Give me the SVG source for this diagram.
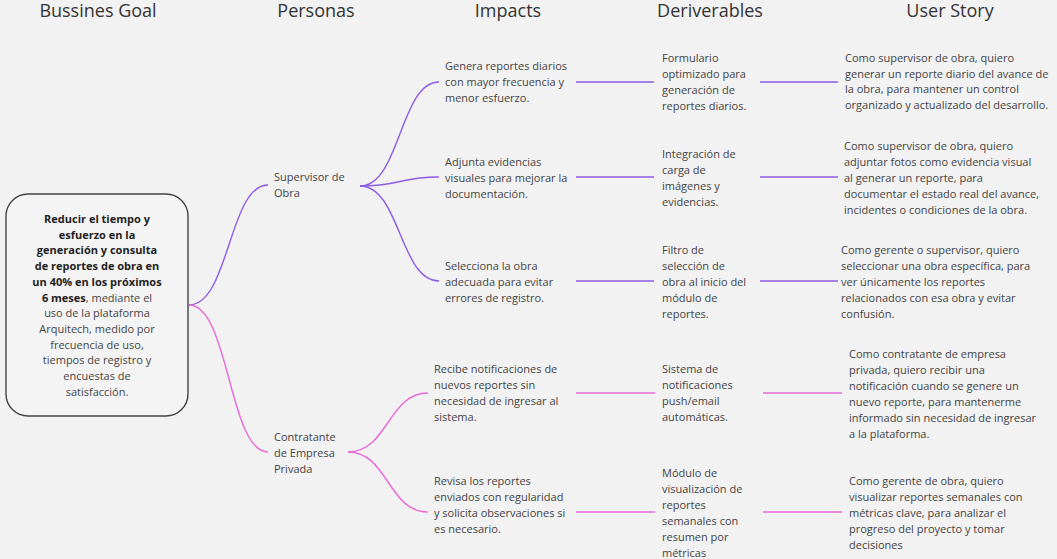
<svg xmlns="http://www.w3.org/2000/svg" width="1057" height="559" viewBox="0 0 1057 559">
<style>
text{font-family:"Open Sans","Noto Sans","Liberation Sans",sans-serif;fill:#444;font-size:11px}
.h{font-size:18px;fill:#333;text-anchor:middle}
.b{font-weight:bold;fill:#222}
.c{text-anchor:middle}
.p{fill:none;stroke:#8e5ce6;stroke-width:1.4}
.k{fill:none;stroke:#e86ad6;stroke-width:1.4}
</style>
<rect width="1057" height="559" fill="#f2f2f2"/>
<g id="headers">
<text class="h" x="98" y="17">Bussines Goal</text>
<text class="h" x="316" y="17">Personas</text>
<text class="h" x="508" y="17">Impacts</text>
<text class="h" x="710" y="17">Deriverables</text>
<text class="h" x="950" y="17">User Story</text>
</g>
<g id="connectors">
<path class="p" d="M189,305 C229,305 229,185 268,185"/>
<path class="k" d="M189,305 C229,305 229,452 268,452"/>
<path class="p" d="M360,186 C400,186 400,82 439,82"/>
<path class="p" d="M360,186 C400,186 400,177 439,177"/>
<path class="p" d="M360,186 C400,186 400,281 439,281"/>
<path class="k" d="M348,452 C388,452 388,393 428,393"/>
<path class="k" d="M348,452 C388,452 388,512 428,512"/>
<path class="p" d="M576,82H654M760,82H838"/>
<path class="p" d="M576,177H654M760,177H838"/>
<path class="p" d="M576,281H654M760,281H838"/>
<path class="k" d="M576,393H655M763,393H842"/>
<path class="k" d="M576,512H655M763,512H842"/>
</g>
<g id="goal">
<rect x="6" y="194" width="182" height="222" rx="22" fill="#f4f4f4" stroke="#444" stroke-width="1.4"/>
<text class="c" x="97" y="223"><tspan class="b">Reducir el tiempo y</tspan><tspan class="b" x="97" dy="15.7">esfuerzo en la</tspan><tspan class="b" x="97" dy="15.7">generación y consulta</tspan><tspan class="b" x="97" dy="15.7">de reportes de obra en</tspan><tspan class="b" x="97" dy="15.7">un 40% en los próximos</tspan><tspan x="97" dy="15.7"><tspan class="b">6 meses</tspan>, mediante el</tspan><tspan x="97" dy="15.7">uso de la plataforma</tspan><tspan x="97" dy="15.7">Arquitech, medido por</tspan><tspan x="97" dy="15.7">frecuencia de uso,</tspan><tspan x="97" dy="15.7">tiempos de registro y</tspan><tspan x="97" dy="15.7">encuestas de</tspan><tspan x="97" dy="15.7">satisfacción.</tspan></text>
</g>
<g id="persona-supervisor">
<text x="274" y="181">Supervisor de<tspan x="274" dy="16">Obra</tspan></text>
</g>
<g id="persona-contratante">
<text x="274" y="441">Contratante<tspan x="274" dy="16">de Empresa</tspan><tspan x="274" dy="16">Privada</tspan></text>
</g>
<g id="impact-1">
<text x="445" y="70">Genera reportes diarios<tspan x="445" dy="16">con mayor frecuencia y</tspan><tspan x="445" dy="16">menor esfuerzo.</tspan></text>
</g>
<g id="impact-2">
<text x="445" y="166">Adjunta evidencias<tspan x="445" dy="16">visuales para mejorar la</tspan><tspan x="445" dy="16">documentación.</tspan></text>
</g>
<g id="impact-3">
<text x="445" y="270">Selecciona la obra<tspan x="445" dy="16">adecuada para evitar</tspan><tspan x="445" dy="16">errores de registro.</tspan></text>
</g>
<g id="impact-4">
<text x="434" y="373">Recibe notificaciones de<tspan x="434" dy="16">nuevos reportes sin</tspan><tspan x="434" dy="16">necesidad de ingresar al</tspan><tspan x="434" dy="16">sistema.</tspan></text>
</g>
<g id="impact-5">
<text x="434" y="485">Revisa los reportes<tspan x="434" dy="16">enviados con regularidad</tspan><tspan x="434" dy="16">y solicita observaciones si</tspan><tspan x="434" dy="16">es necesario.</tspan></text>
</g>
<g id="deliverable-1">
<text x="662" y="62">Formulario<tspan x="662" dy="16">optimizado para</tspan><tspan x="662" dy="16">generación de</tspan><tspan x="662" dy="16">reportes diarios.</tspan></text>
</g>
<g id="deliverable-2">
<text x="662" y="158">Integración de<tspan x="662" dy="16">carga de</tspan><tspan x="662" dy="16">imágenes y</tspan><tspan x="662" dy="16">evidencias.</tspan></text>
</g>
<g id="deliverable-3">
<text x="662" y="254">Filtro de<tspan x="662" dy="16">selección de</tspan><tspan x="662" dy="16">obra al inicio del</tspan><tspan x="662" dy="16">módulo de</tspan><tspan x="662" dy="16">reportes.</tspan></text>
</g>
<g id="deliverable-4">
<text x="662" y="373">Sistema de<tspan x="662" dy="16">notificaciones</tspan><tspan x="662" dy="16">push/email</tspan><tspan x="662" dy="16">automáticas.</tspan></text>
</g>
<g id="deliverable-5">
<text x="662" y="477">Módulo de<tspan x="662" dy="16">visualización de</tspan><tspan x="662" dy="16">reportes</tspan><tspan x="662" dy="16">semanales con</tspan><tspan x="662" dy="16">resumen por</tspan><tspan x="662" dy="16">métricas</tspan></text>
</g>
<g id="story-1">
<text x="845" y="62">Como supervisor de obra, quiero<tspan x="845" dy="15.7">generar un reporte diario del avance de</tspan><tspan x="845" dy="15.7">la obra, para mantener un control</tspan><tspan x="845" dy="15.7">organizado y actualizado del desarrollo.</tspan></text>
</g>
<g id="story-2">
<text x="844" y="150">Como supervisor de obra, quiero<tspan x="844" dy="16">adjuntar fotos como evidencia visual</tspan><tspan x="844" dy="16">al generar un reporte, para</tspan><tspan x="844" dy="16">documentar el estado real del avance,</tspan><tspan x="844" dy="16">incidentes o condiciones de la obra.</tspan></text>
</g>
<g id="story-3">
<text x="841" y="254">Como gerente o supervisor, quiero<tspan x="841" dy="16">seleccionar una obra específica, para</tspan><tspan x="841" dy="16">ver únicamente los reportes</tspan><tspan x="841" dy="16">relacionados con esa obra y evitar</tspan><tspan x="841" dy="16">confusión.</tspan></text>
</g>
<g id="story-4">
<text x="849" y="358">Como contratante de empresa<tspan x="849" dy="16">privada, quiero recibir una</tspan><tspan x="849" dy="16">notificación cuando se genere un</tspan><tspan x="849" dy="16">nuevo reporte, para mantenerme</tspan><tspan x="849" dy="16">informado sin necesidad de ingresar</tspan><tspan x="849" dy="16">a la plataforma.</tspan></text>
</g>
<g id="story-5">
<text x="849" y="485">Como gerente de obra, quiero<tspan x="849" dy="16">visualizar reportes semanales con</tspan><tspan x="849" dy="16">métricas clave, para analizar el</tspan><tspan x="849" dy="16">progreso del proyecto y tomar</tspan><tspan x="849" dy="16">decisiones</tspan></text>
</g>
</svg>
